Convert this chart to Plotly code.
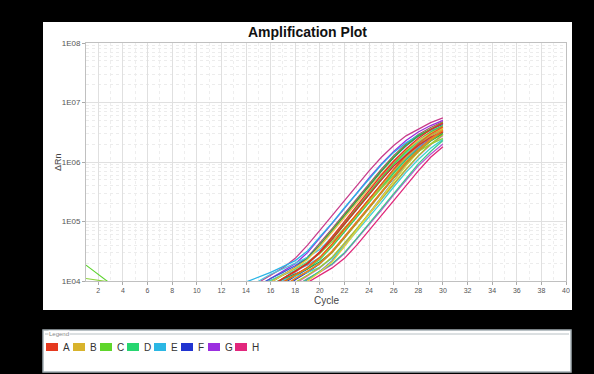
import plotly.graph_objects as go

# ---------------- data ----------------
cycles = list(range(14, 31))            # cycles 14..30
early_cycles = [1, 2, 3]

rows = ["A", "B", "C", "D", "E", "F", "G", "H"]
row_colors = ["#e5391f", "#d8b32c", "#5fd62b", "#27d670", "#2bb7e4", "#2134d0", "#9b2fe0", "#e2277d"]

y_tickvals = [1e4, 1e5, 1e6, 1e7, 1e8]
y_ticktext = ["1E04", "1E05", "1E06", "1E07", "1E08"]

# Delta Rn per well (cycles 14..30), four wells per row
drn_A = [
    [4.9e3, 6.3e3, 8.1e3, 1.1e4, 1.45e4, 2.0e4, 3.1e4, 5.5e4, 1.0e5, 1.8e5, 3.3e5, 6.0e5, 1.03e6, 1.65e6, 2.5e6, 3.5e6, 4.5e6],
    [4.3e3, 5.5e3, 7.1e3, 9.5e3, 1.26e4, 1.7e4, 2.5e4, 4.2e4, 7.5e4, 1.35e5, 2.4e5, 4.3e5, 7.6e5, 1.3e6, 2.05e6, 2.95e6, 3.9e6],
    [4.9e3, 6.3e3, 8.1e3, 1.1e4, 1.45e4, 1.95e4, 3.0e4, 5.0e4, 9.0e4, 1.6e5, 2.85e5, 5.0e5, 8.5e5, 1.3e6, 1.9e6, 2.6e6, 3.2e6],
    [3.8e3, 4.9e3, 6.3e3, 8.1e3, 1.1e4, 1.45e4, 2.0e4, 3.2e4, 5.6e4, 1.0e5, 1.8e5, 3.25e5, 5.8e5, 1.0e6, 1.6e6, 2.45e6, 3.4e6],
]
drn_B = [
    [4.3e3, 5.5e3, 7.1e3, 9.5e3, 1.26e4, 1.66e4, 2.4e4, 4.0e4, 7.1e4, 1.26e5, 2.2e5, 4.0e5, 7.1e5, 1.2e6, 1.9e6, 2.75e6, 3.6e6],
    [2.5e3, 3.2e3, 4.2e3, 5.5e3, 7.5e3, 1.0e4, 1.4e4, 2.1e4, 3.8e4, 7.2e4, 1.35e5, 2.5e5, 4.7e5, 8.6e5, 1.5e6, 2.4e6, 3.4e6],
    [3.8e3, 4.9e3, 6.3e3, 8.1e3, 1.1e4, 1.45e4, 1.95e4, 3.0e4, 5.2e4, 9.3e4, 1.66e5, 3.0e5, 5.4e5, 9.3e5, 1.5e6, 2.3e6, 3.2e6],
    [5.5e3, 7.1e3, 9.5e3, 1.26e4, 1.66e4, 2.3e4, 3.8e4, 6.6e4, 1.17e5, 2.05e5, 3.6e5, 6.3e5, 1.05e6, 1.6e6, 2.3e6, 3.0e6, 3.7e6],
]
drn_C = [
    [4.9e3, 6.3e3, 8.1e3, 1.1e4, 1.45e4, 1.95e4, 3.0e4, 5.2e4, 9.3e4, 1.66e5, 3.0e5, 5.4e5, 9.3e5, 1.5e6, 2.3e6, 3.2e6, 4.1e6],
    [5.0e3, 6.5e3, 8.5e3, 1.1e4, 1.5e4, 2.0e4, 2.9e4, 4.6e4, 7.8e4, 1.3e5, 2.2e5, 3.7e5, 6.2e5, 1.0e6, 1.5e6, 2.0e6, 2.5e6],
    [3.3e3, 4.3e3, 5.5e3, 7.1e3, 9.5e3, 1.26e4, 1.7e4, 2.5e4, 4.3e4, 7.6e4, 1.35e5, 2.4e5, 4.3e5, 7.6e5, 1.28e6, 2.0e6, 2.9e6],
    [5.5e3, 7.1e3, 9.5e3, 1.26e4, 1.66e4, 2.4e4, 4.0e4, 7.1e4, 1.26e5, 2.2e5, 4.0e5, 7.1e5, 1.2e6, 1.9e6, 2.75e6, 3.6e6, 4.6e6],
]
# early-cycle readings of two C wells (cycles 1..3)
early_C = [
    [1.85e4, 1.3e4, 9.0e3],
    [1.1e4, 1.02e4, 9.6e3],
]
drn_D = [
    [4.3e3, 5.5e3, 7.1e3, 9.5e3, 1.26e4, 1.66e4, 2.3e4, 3.8e4, 6.7e4, 1.18e5, 2.05e5, 3.7e5, 6.5e5, 1.08e6, 1.65e6, 2.35e6, 3.0e6],
    [2.9e3, 3.8e3, 4.9e3, 6.3e3, 8.1e3, 1.1e4, 1.45e4, 1.95e4, 3.0e4, 5.2e4, 9.3e4, 1.66e5, 3.0e5, 5.4e5, 9.3e5, 1.5e6, 2.3e6],
    [6.0e3, 8.0e3, 1.02e4, 1.3e4, 1.6e4, 2.1e4, 3.0e4, 5.0e4, 9.0e4, 1.6e5, 2.9e5, 5.2e5, 9.0e5, 1.45e6, 2.2e6, 3.0e6, 3.8e6],
    [5.5e3, 7.0e3, 8.8e3, 1.08e4, 1.3e4, 1.6e4, 2.1e4, 3.1e4, 5.3e4, 9.5e4, 1.7e5, 3.1e5, 5.5e5, 9.5e5, 1.5e6, 2.25e6, 3.0e6],
]
drn_E = [
    [9.6e3, 1.15e4, 1.4e4, 1.75e4, 2.2e4, 3.2e4, 5.4e4, 9.5e4, 1.7e5, 3.0e5, 5.3e5, 9.0e5, 1.45e6, 2.1e6, 2.8e6, 3.4e6, 3.9e6],
    [7.5e3, 1.0e4, 1.3e4, 1.6e4, 2.0e4, 2.5e4, 3.4e4, 5.5e4, 9.5e4, 1.7e5, 3.0e5, 5.3e5, 9.0e5, 1.4e6, 2.1e6, 2.8e6, 3.4e6],
    [7.0e3, 8.5e3, 1.05e4, 1.25e4, 1.5e4, 1.85e4, 2.5e4, 4.0e4, 7.0e4, 1.25e5, 2.2e5, 4.0e5, 7.0e5, 1.15e6, 1.8e6, 2.6e6, 3.4e6],
    [6.0e3, 7.5e3, 9.0e3, 1.05e4, 1.2e4, 1.4e4, 1.7e4, 2.4e4, 3.9e4, 6.8e4, 1.2e5, 2.1e5, 3.8e5, 6.7e5, 1.1e6, 1.7e6, 2.4e6],
]
drn_F = [
    [3.5e3, 4.5e3, 5.9e3, 7.7e3, 1.05e4, 1.4e4, 1.95e4, 3.1e4, 5.5e4, 9.8e4, 1.75e5, 3.15e5, 5.6e5, 9.6e5, 1.55e6, 2.35e6, 3.3e6],
    [6.5e3, 8.5e3, 1.1e4, 1.4e4, 1.8e4, 2.5e4, 4.0e4, 7.0e4, 1.25e5, 2.2e5, 3.9e5, 7.0e5, 1.18e6, 1.85e6, 2.7e6, 3.5e6, 4.3e6],
    [2.6e3, 3.4e3, 4.4e3, 5.8e3, 7.8e3, 1.05e4, 1.45e4, 2.2e4, 3.9e4, 7.3e4, 1.38e5, 2.55e5, 4.8e5, 8.8e5, 1.5e6, 2.35e6, 3.2e6],
    [4.0e3, 5.2e3, 6.8e3, 9.0e3, 1.2e4, 1.6e4, 2.4e4, 4.1e4, 7.4e4, 1.33e5, 2.35e5, 4.2e5, 7.5e5, 1.25e6, 1.95e6, 2.8e6, 3.7e6],
]
drn_G = [
    [6.3e3, 8.1e3, 1.1e4, 1.45e4, 1.95e4, 3.0e4, 5.2e4, 9.3e4, 1.66e5, 3.0e5, 5.4e5, 9.3e5, 1.5e6, 2.3e6, 3.2e6, 4.1e6, 5.0e6],
    [2.9e3, 3.8e3, 4.9e3, 6.3e3, 8.1e3, 1.1e4, 1.4e4, 1.9e4, 2.9e4, 5.0e4, 8.8e4, 1.55e5, 2.8e5, 5.0e5, 8.6e5, 1.35e6, 2.0e6],
    [4.3e3, 5.5e3, 7.1e3, 9.5e3, 1.26e4, 1.66e4, 2.4e4, 3.9e4, 6.8e4, 1.2e5, 2.1e5, 3.8e5, 6.8e5, 1.12e6, 1.75e6, 2.5e6, 3.2e6],
    [4.5e3, 5.8e3, 7.5e3, 1.0e4, 1.4e4, 1.95e4, 3.1e4, 5.5e4, 1.0e5, 1.8e5, 3.2e5, 5.7e5, 9.8e5, 1.55e6, 2.35e6, 3.2e6, 4.0e6],
]
drn_H = [
    [7.1e3, 9.5e3, 1.26e4, 1.66e4, 2.4e4, 4.0e4, 7.1e4, 1.26e5, 2.2e5, 4.0e5, 7.1e5, 1.2e6, 1.9e6, 2.75e6, 3.6e6, 4.6e6, 5.5e6],
    [2.5e3, 3.3e3, 4.3e3, 5.5e3, 7.1e3, 9.5e3, 1.26e4, 1.66e4, 2.4e4, 4.0e4, 7.1e4, 1.26e5, 2.2e5, 4.0e5, 7.1e5, 1.2e6, 1.8e6],
    [5.5e3, 7.1e3, 9.5e3, 1.26e4, 1.7e4, 2.5e4, 4.3e4, 7.6e4, 1.35e5, 2.4e5, 4.3e5, 7.6e5, 1.28e6, 2.0e6, 2.9e6, 3.8e6, 4.8e6],
    [3.0e3, 3.9e3, 5.0e3, 6.6e3, 9.0e3, 1.2e4, 1.65e4, 2.5e4, 4.2e4, 7.5e4, 1.33e5, 2.35e5, 4.2e5, 7.4e5, 1.25e6, 1.95e6, 2.8e6],
]

col_A = ["#e8321e", "#f05a14", "#d42a2a", "#f07a1e"]
col_B = ["#d8b424", "#e6d23c", "#b4a02a", "#f0c050"]
col_C = ["#5ad22a", "#8cd23c", "#a8c828", "#3cb428"]
col_D = ["#28d46e", "#3cc88c", "#50dc9a", "#1eaa5a"]
col_E = ["#28b4e6", "#50c8dc", "#64a0d2", "#3cd2d2"]
col_F = ["#1e32d2", "#3c5ad2", "#5a78c8", "#2846b4"]
col_G = ["#9a2ce0", "#b45ad2", "#8c50b4", "#c878c8"]
col_H = ["#c83c8c", "#e0287a", "#a05a64", "#d26eaa"]

# ---------------- figure ----------------
W, H = 594, 374
PL, PT, PW, PH = 86, 43, 480, 238


def px(x):
    return (x - PL) / PW


def py(y):
    return (PT + PH - y) / PH


fig = go.Figure()

row_data = [
    ("H", drn_H, col_H), ("G", drn_G, col_G), ("F", drn_F, col_F), ("E", drn_E, col_E),
    ("D", drn_D, col_D), ("C", drn_C, col_C), ("B", drn_B, col_B), ("A", drn_A, col_A),
]
for name, wells, cols in row_data:
    for i, vals in enumerate(wells):
        fig.add_trace(go.Scatter(x=cycles, y=vals, mode="lines",
                                 line=dict(color=cols[i], width=1.3),
                                 showlegend=False, hoverinfo="skip"))
    if name == "C":
        for i, vals in enumerate(early_C):
            fig.add_trace(go.Scatter(x=early_cycles, y=vals, mode="lines",
                                     line=dict(color=cols[i], width=1.1),
                                     showlegend=False, hoverinfo="skip"))

shapes = [
    # white chart panel
    dict(type="rect", xref="paper", yref="paper", layer="below",
         x0=px(43), x1=px(572), y0=py(310), y1=py(22),
         fillcolor="white", line=dict(width=0)),
    # legend panel
    dict(type="rect", xref="paper", yref="paper", layer="above",
         x0=px(43), x1=px(571), y0=py(372), y1=py(330),
         fillcolor="white", line=dict(color="#a3adb2", width=1.5)),
    dict(type="line", xref="paper", yref="paper", layer="above",
         x0=px(45), x1=px(569), y0=py(334), y1=py(334),
         line=dict(color="#b8c0c4", width=1)),
]
annotations = [
    dict(text="<b>Amplification Plot</b>", x=px(307), y=py(32), xref="paper", yref="paper",
         showarrow=False, xanchor="center", yanchor="middle",
         font=dict(family="Liberation Sans, Arial", size=14, color="#111")),
    dict(text="ΔRn", x=px(58), y=py(162), xref="paper", yref="paper", textangle=-90,
         showarrow=False, xanchor="center", yanchor="middle",
         font=dict(family="Liberation Sans, Arial", size=9, color="#444")),
    dict(text="Cycle", x=px(326), y=py(300), xref="paper", yref="paper",
         showarrow=False, xanchor="center", yanchor="middle",
         font=dict(family="Liberation Sans, Arial", size=10, color="#444")),
    dict(text="Legend", x=px(48), y=py(334), xref="paper", yref="paper",
         showarrow=False, xanchor="left", yanchor="middle", bgcolor="white",
         borderpad=0, font=dict(family="Liberation Sans, Arial", size=6, color="#888")),
]
for i, (r, c) in enumerate(zip(rows, row_colors)):
    x0 = 46 + 27 * i
    shapes.append(dict(type="rect", xref="paper", yref="paper", layer="above",
                       x0=px(x0), x1=px(x0 + 12), y0=py(351), y1=py(343),
                       fillcolor=c, line=dict(width=0)))
    annotations.append(dict(text=r, x=px(x0 + 15), y=py(347), xref="paper", yref="paper",
                            showarrow=False, xanchor="left", yanchor="middle",
                            font=dict(family="Liberation Sans, Arial", size=10, color="#333")))

fig.update_layout(
    width=W, height=H,
    margin=dict(l=PL, r=W - PL - PW, t=PT, b=H - PT - PH, pad=0),
    paper_bgcolor="black", plot_bgcolor="white",
    showlegend=False,
    shapes=shapes, annotations=annotations,
    font=dict(family="Liberation Sans, Arial", size=8, color="#555"),
)
fig.update_xaxes(
    range=[1, 40], tick0=0, dtick=2, ticks="outside", ticklen=3, tickcolor="#aaa",
    showline=True, linecolor="#c0c0c0", linewidth=1, mirror=True,
    showgrid=True, gridcolor="#e0e0e0", gridwidth=1, zeroline=False,
    tickfont=dict(size=7, color="#555"),
    minor=dict(tick0=0, dtick=1, showgrid=True, gridcolor="#eeeeee", griddash="dot"),
)
fig.update_yaxes(
    type="log", range=[4, 8], tickmode="array", tickvals=y_tickvals, ticktext=y_ticktext,
    ticks="outside", ticklen=3, tickcolor="#aaa",
    showline=True, linecolor="#c0c0c0", linewidth=1, mirror=True,
    showgrid=True, gridcolor="#e0e0e0", gridwidth=1, zeroline=False,
    tickfont=dict(size=8, color="#555"),
    minor=dict(dtick="D1", showgrid=True, gridcolor="#ececec", griddash="dot"),
)

fig.write_html("out.html", config={"displayModeBar": False},
               post_script="document.body.style.margin='0';document.body.style.background='black';")
